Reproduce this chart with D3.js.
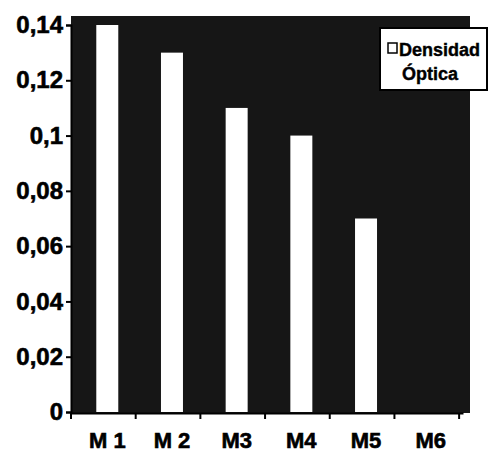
<!DOCTYPE html>
<html>
<head>
<meta charset="utf-8">
<script src="https://cdn.jsdelivr.net/npm/d3@7"></script>
<style>
  body { margin: 0; background: #fff; }
  text { font-family: "Liberation Sans", Arial, sans-serif; font-weight: bold; }
</style>
</head>
<body>
<div id="chart"></div>
<script>
var categories = ["M 1", "M 2", "M3", "M4", "M5", "M6"];
var densidad = [0.14, 0.13, 0.11, 0.10, 0.07, 0];
var yTicks = [0, 0.02, 0.04, 0.06, 0.08, 0.1, 0.12, 0.14];
var seriesName = ["Densidad", "Óptica"];

plot_bar_graph("#chart");

function plot_bar_graph(htmlObjectId) {
    var width = 489;
    var height = 455;

    var x = d3.scaleBand()
        .domain(categories)
        .range([71, 463])
        .paddingInner(0.66)
        .paddingOuter(0.36);

    var y = d3.scaleLinear()
        .domain([0, 0.14])
        .range([412, 25]);

    var fmt = function(d) { return String(d).replace(".", ","); };

    var canvas = d3.select(htmlObjectId)
        .append("svg")
        .attr("width", width)
        .attr("height", height);

    // dark plot area
    canvas.append("rect")
        .attr("x", 71)
        .attr("y", 16)
        .attr("width", 399)
        .attr("height", 397)
        .attr("fill", "#161616");

    canvas.selectAll("rect.bar")
        .data(densidad)
        .enter()
            .append("rect")
            .attr("class", "bar")
            .attr("x", function(d, i) { return x(categories[i]) + 2; })
            .attr("y", function(d) { return y(d); })
            .attr("width", x.bandwidth())
            .attr("height", function(d) { return y(0) - y(d); })
            .attr("fill", "#fff");

    // y axis
    var yAxis = d3.axisLeft(y)
        .tickValues(yTicks)
        .tickSize(5)
        .tickFormat(fmt);

    var gy = canvas.append("g")
        .attr("transform", "translate(71,0)")
        .call(yAxis);
    gy.select(".domain").attr("stroke", "#000").attr("stroke-width", 2);
    gy.selectAll(".tick line").attr("stroke", "#000").attr("stroke-width", 2);
    gy.selectAll(".tick text")
        .attr("x", -8)
        .attr("fill", "#000")
        .attr("stroke", "#000")
        .attr("stroke-width", 0.6)
        .style("font-size", "24px");

    // x axis
    var xAxis = d3.axisBottom(x).tickSize(0).tickFormat("");
    var gx = canvas.append("g")
        .attr("transform", "translate(0,413)")
        .call(xAxis);
    gx.select(".domain").attr("stroke", "#000").attr("stroke-width", 2);

    canvas.selectAll("line.xtick")
        .data(categories.concat(["end"]))
        .enter()
            .append("line")
            .attr("class", "xtick")
            .attr("x1", function(d, i) { return 71 + i * x.step(); })
            .attr("x2", function(d, i) { return 71 + i * x.step(); })
            .attr("y1", 413)
            .attr("y2", 419)
            .attr("stroke", "#000")
            .attr("stroke-width", 2);

    canvas.selectAll("text.xlab")
        .data(categories)
        .enter()
            .append("text")
            .attr("class", "xlab")
            .attr("x", function(d) { return x(d) + x.bandwidth() / 2 + 2; })
            .attr("y", 448)
            .attr("text-anchor", "middle")
            .attr("stroke", "#000")
            .attr("stroke-width", 0.6)
            .style("font-size", "22px")
            .text(function(d) { return d; });

    // legend
    var legend = canvas.append("g");
    legend.append("rect")
        .attr("x", 380)
        .attr("y", 28)
        .attr("width", 107)
        .attr("height", 62)
        .attr("fill", "#fff")
        .attr("stroke", "#000")
        .attr("stroke-width", 2);
    legend.append("rect")
        .attr("x", 388)
        .attr("y", 43)
        .attr("width", 9)
        .attr("height", 10)
        .attr("fill", "#fff")
        .attr("stroke", "#000")
        .attr("stroke-width", 1.5);
    legend.selectAll("text")
        .data(seriesName)
        .enter()
            .append("text")
            .attr("x", function(d, i) { return i === 0 ? 399 : 402; })
            .attr("y", function(d, i) { return 56 + i * 24; })
            .attr("stroke", "#000")
            .attr("stroke-width", 0.4)
            .style("font-size", "18px")
            .text(function(d) { return d; });
}
</script>
</body>
</html>
